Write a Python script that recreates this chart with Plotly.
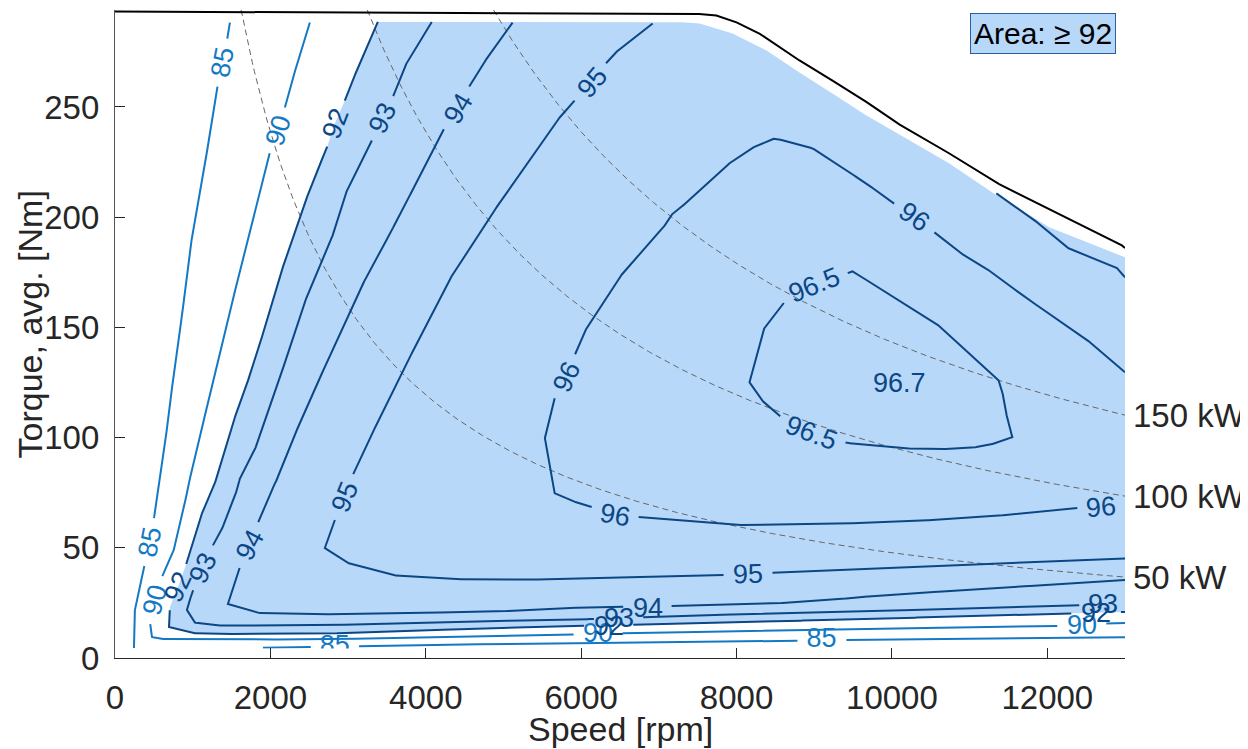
import math
import numpy as np
import plotly.graph_objects as go

# ---------------- data (speed in rpm, torque in Nm) ----------------
# maximum torque envelope
mt_rpm = [0, 4950, 7520, 7740, 8000, 8300, 8810, 9235, 9670, 10100, 10740, 11380, 12025, 12960, 13000]
mt_nm = [293.3, 292.5, 292.2, 291.5, 288.4, 283.2, 271.1, 262.0, 252.3, 242.0, 228.9, 215.0, 203.7, 187.2, 186.0]

# upper edge of the map data (right to left)
edge_rpm = [13000, 12025, 11293, 10740, 10096, 9672, 9235, 8810, 8386, 7949, 7524, 7300, 3383]
edge_nm = [181.8, 195.4, 211.2, 224.4, 237.5, 246.1, 256.1, 265.6, 275.6, 283.3, 287.9, 288.4, 288.6]

# efficiency contour lines
c85a_rpm = [1479, 1441, 1389, 1325, 1248, 1003, 926, 862, 759, 707, 643, 580, 540, 450, 386, 257, 244]
c85a_nm = [288.3, 280.1, 270.2, 260.6, 242.5, 194.0, 174.5, 154.6, 130.6, 113.8, 97.5, 80.7, 71.6, 52.6, 43.1, 23.1, 4.5]
c85b_rpm = [1904, 2572, 4952, 8810, 10097, 13000]
c85b_nm = [4.67, 4.99, 6.35, 7.84, 8.61, 9.38]

c90_rpm = [2508, 2379, 2187, 2096, 1994, 1736, 1505, 1260, 1093, 965, 926, 772, 604, 514, 450, 476,
           579, 862, 2572, 4952, 5942, 6585, 7653, 9454, 12193, 12798, 13000]
c90_nm = [288.3, 274.2, 249.8, 239.3, 229.4, 194.0, 160.9, 126.0, 100.2, 81.6, 74.8, 50.3, 36.7, 26.3, 16.3, 9.5,
          8.6, 8.5, 8.4, 10.0, 10.7, 11.3, 11.9, 13.0, 14.6, 15.7, 15.9]

c92_rpm = [3383, 3177, 2958, 2830, 2727, 2534, 2379, 2225, 1994, 1762, 1582, 1312, 1132, 926, 810, 707, 695,
           990, 1286, 2572, 4952, 7653, 9454, 12373, 13000]
c92_nm = [288.6, 272.4, 252.9, 242.5, 231.6, 215.3, 199.9, 184.9, 157.7, 130.6, 113.8, 81.6, 67.1, 43.5, 32.2, 23.1, 14.1,
          11.3, 10.9, 10.9, 13.7, 15.9, 17.5, 20.3, 20.9]

c93_rpm = [4077, 3769, 3576, 3447, 3306, 2997, 2830, 2662, 2482, 2341, 2097, 1839, 1608, 1582, 1415, 1248, 1132,
           990, 926, 1029, 1286, 2572, 4952, 5724, 7653, 9454, 12450, 13000]
c93_nm = [288.6, 271.3, 254.5, 244.8, 234.8, 213.5, 194.0, 180.4, 165.5, 150.0, 124.7, 97.5, 81.6, 77.5, 61.2, 50.3, 40.8,
          29.5, 21.8, 16.1, 14.7, 14.7, 16.9, 17.2, 19.5, 20.9, 24.0, 24.5]

c94_rpm = [5117, 4849, 4566, 4412, 4244, 3949, 3640, 3563, 3254, 2997, 2740, 2405, 2097, 2058, 1839, 1736, 1608,
           1453, 1839, 2572, 4952, 5724, 7177, 8386, 9235, 9454, 10096, 13000]
c94_nm = [288.3, 275.6, 259.7, 249.3, 240.7, 219.9, 199.9, 194.0, 174.5, 154.6, 135.1, 109.2, 81.6, 79.3, 61.2, 51.2, 41.3,
          24.5, 20.4, 19.7, 21.1, 22.7, 23.6, 24.5, 26.3, 27.2, 29.0, 35.4]

c95_rpm = [6920, 6495, 6328, 6135, 5942, 5762, 5299, 4952, 4720, 4373, 3987, 3691, 3434, 3061, 2958, 2830, 2701,
           2997, 3563, 4283, 5145, 7820, 8463, 10097, 13000]
c95_nm = [287.9, 276.5, 270.2, 261.1, 253.9, 247.1, 224.4, 206.7, 194.0, 175.9, 150.0, 129.2, 111.1, 83.0, 73.0, 62.6, 49.9,
          43.1, 37.6, 35.8, 35.4, 37.6, 38.7, 40.9, 45.2]
c95b_rpm = [11344, 11794, 12245, 12888, 13000]
c95b_nm = [210.8, 199.9, 186.3, 177.2, 172.7]

c96_rpm = [13000, 12605, 12155, 11730, 11293, 10958, 10547, 10290, 10007, 9672, 9454, 9235, 8978, 8720, 8489, 8257,
           7949, 7524, 7396, 7177, 7100, 6791, 6560, 6084, 5917, 5814, 5659, 5531, 5659, 5852, 6148, 6431, 6753,
           7949, 9029, 10097, 11164, 12373, 12695, 13000]
c96_nm = [129.6, 141.9, 153.2, 163.2, 175.0, 181.8, 193.1, 199.9, 206.7, 215.3, 220.3, 225.7, 231.2, 233.9, 235.7, 232.5,
          225.7, 212.1, 207.6, 201.7, 197.2, 184.9, 175.9, 150.9, 137.4, 127.4, 117.9, 100.2, 74.8, 71.6, 68.4, 64.8, 63.9,
          60.3, 60.7, 61.8, 63.9, 68.0, 68.4, 70.7]

c965_rpm = [8656, 8360, 8167, 8322, 8592, 8965, 9428, 10097, 10521, 10997, 11254, 11550, 11486, 11447, 11383,
            10637, 10097, 9492, 9003, 8656]
c965_nm = [163.2, 150.0, 125.1, 117.0, 108.8, 102.0, 97.5, 95.2, 94.7, 95.2, 96.6, 100.2, 107.9, 116.9, 125.6,
           150.0, 162.3, 175.4, 169.1, 163.2]

# contour label positions (rpm, Nm, rotation in degrees)
lab85_rpm = [1389, 450]
lab85_nm = [270.2, 52.6]
lab85_ang = [-79, -79]
lab85cut_rpm = [2830, 9094]
lab85cut_nm = [5.1, 8.1]
lab90_rpm = [2096, 514, 6212, 12450]
lab90_nm = [239.3, 26.3, 11.3, 15.0]
lab90_ang = [-72, -75, 0, 0]
lab92_rpm = [2830, 810, 6354, 12630]
lab92_nm = [242.5, 32.2, 14.6, 20.2]
lab92_ang = [-69, -65, 0, 0]
lab93_rpm = [3447, 1132, 6482, 12720]
lab93_nm = [244.8, 40.8, 18.1, 24.5]
lab93_ang = [-64, -64, 0, 0]
lab94_rpm = [4412, 1736, 6855]
lab94_nm = [249.3, 51.2, 22.8]
lab94_ang = [-59, -62, 0]
lab95_rpm = [6135, 2958, 8142]
lab95_nm = [261.1, 73.0, 38.0]
lab95_ang = [-50, -68, -2]
lab96_rpm = [10290, 5814, 6431, 12695]
lab96_nm = [199.9, 127.4, 64.8, 68.4]
lab96_ang = [35, -65, 10, -5]
lab965_rpm = [9003, 8965]
lab965_nm = [169.1, 102.0]
lab965_ang = [-22, 21]
lab967_rpm = [10097]
lab967_nm = [124.7]

# constant power lines
power_kw = [50, 100, 150]

# axis ticks
x_ticks = [0, 2000, 4000, 6000, 8000, 10000, 12000]
y_ticks = [0, 50, 100, 150, 200, 250]

# ---------------- styling ----------------
DARK = '#0b4785'
LIGHT = '#1479c4'
FILL = '#b8d8fa'
FONT = 'Liberation Sans'
LABEL_FS = 27
X_MAX, Y_MAX = 13000, 294
SX = 1010 / X_MAX  # px per rpm (plot width 1010 px)
SY = 648 / Y_MAX   # px per Nm (plot height 648 px)


def label_radius(text):
    w = LABEL_FS * (0.556 * sum(ch.isdigit() for ch in text) + 0.278 * text.count('.'))
    return w / 2 + 9


def split_line(xs, ys, gaps):
    """densify polyline and open gaps around label centres"""
    ox, oy = [], []
    last_none = True
    for i in range(len(xs) - 1):
        x0, y0, x1, y1 = xs[i], ys[i], xs[i + 1], ys[i + 1]
        L = math.hypot((x1 - x0) * SX, (y1 - y0) * SY)
        n = max(1, int(L))
        for k in range(n + (1 if i == len(xs) - 2 else 0)):
            t = k / n
            x = x0 + (x1 - x0) * t
            y = y0 + (y1 - y0) * t
            vis = all(math.hypot((x - gx) * SX, (y - gy) * SY) > r for gx, gy, r in gaps)
            if vis:
                ox.append(x)
                oy.append(y)
                last_none = False
            elif not last_none:
                ox.append(None)
                oy.append(None)
                last_none = True
    return ox, oy


fig = go.Figure()

# filled area >= 92
fill_x = list(c92_rpm) + list(edge_rpm)
fill_y = list(c92_nm) + list(edge_nm)
fig.add_trace(go.Scatter(x=fill_x, y=fill_y, fill='toself', fillcolor=FILL, mode='none',
                         hoverinfo='skip'))

# constant power hyperbolas
for p in power_kw:
    nmin = p * 1000 * 60 / (2 * math.pi * Y_MAX)
    n = np.linspace(nmin, X_MAX, 400)
    t = p * 1000 * 60 / (2 * math.pi * n)
    fig.add_trace(go.Scatter(x=n, y=t, mode='lines',
                             line=dict(color='#666666', width=1, dash='6px,4px'), hoverinfo='skip'))

contours = [
    ('85', LIGHT, [(c85a_rpm, c85a_nm), (c85b_rpm, c85b_nm)],
     list(zip(lab85_rpm, lab85_nm, lab85_ang)), list(zip(lab85cut_rpm, lab85cut_nm))),
    ('90', LIGHT, [(c90_rpm, c90_nm)], list(zip(lab90_rpm, lab90_nm, lab90_ang)), []),
    ('92', DARK, [(c92_rpm, c92_nm)], list(zip(lab92_rpm, lab92_nm, lab92_ang)), []),
    ('93', DARK, [(c93_rpm, c93_nm)], list(zip(lab93_rpm, lab93_nm, lab93_ang)), []),
    ('94', DARK, [(c94_rpm, c94_nm)], list(zip(lab94_rpm, lab94_nm, lab94_ang)), []),
    ('95', DARK, [(c95_rpm, c95_nm), (c95b_rpm, c95b_nm)], list(zip(lab95_rpm, lab95_nm, lab95_ang)), []),
    ('96', DARK, [(c96_rpm, c96_nm)], list(zip(lab96_rpm, lab96_nm, lab96_ang)), []),
    ('96.5', DARK, [(c965_rpm, c965_nm)], list(zip(lab965_rpm, lab965_nm, lab965_ang)), []),
]

annotations = []
for text, color, lines, labels, cut_labels in contours:
    r = label_radius(text)
    gaps = [(lx, ly, r) for lx, ly, _ in labels] + [(lx, ly, r) for lx, ly in cut_labels]
    for xs, ys in lines:
        dx, dy = split_line(xs, ys, gaps)
        fig.add_trace(go.Scatter(x=dx, y=dy, mode='lines', line=dict(color=color, width=2),
                                 hoverinfo='skip', connectgaps=False))
    for lx, ly, ang in labels:
        annotations.append(dict(x=lx, y=ly, xref='x', yref='y', text=text, showarrow=False,
                                textangle=ang, font=dict(size=LABEL_FS, color=color, family=FONT),
                                xanchor='center', yanchor='middle'))
    if cut_labels:
        fig.add_trace(go.Scatter(x=[c[0] for c in cut_labels], y=[c[1] for c in cut_labels],
                                 mode='text', text=[text] * len(cut_labels), textposition='middle center',
                                 textfont=dict(size=LABEL_FS, color=color, family=FONT), hoverinfo='skip'))

# white strip below the lowest map torque (hides lower part of bottom labels)
fig.add_trace(go.Scatter(x=[0, X_MAX, X_MAX, 0], y=[0, 0, 4.3, 4.3], fill='toself', fillcolor='white',
                         mode='none', hoverinfo='skip'))

for lx, ly in zip(lab967_rpm, lab967_nm):
    annotations.append(dict(x=lx, y=ly, xref='x', yref='y', text='96.7', showarrow=False,
                            font=dict(size=LABEL_FS, color=DARK, family=FONT)))

# maximum torque line
fig.add_trace(go.Scatter(x=mt_rpm, y=mt_nm, mode='lines', line=dict(color='black', width=2),
                         hoverinfo='skip'))

# power labels on the right
for p in power_kw:
    t_end = p * 1000 * 60 / (2 * math.pi * X_MAX)
    annotations.append(dict(x=X_MAX, y=t_end, xref='x', yref='y', text=f'{p} kW', showarrow=False,
                            xanchor='left', yanchor='middle', xshift=6,
                            font=dict(size=33, color='#262626', family=FONT)))

# area box
annotations.append(dict(x=0.919, y=0.9637, xref='paper', yref='paper', text='Area: ≥ 92', showarrow=False,
                        xanchor='center', yanchor='middle', bgcolor=FILL, bordercolor='#2a5e9e',
                        borderwidth=1, borderpad=3, font=dict(size=30, color='black', family=FONT)))

# axis titles
annotations.append(dict(x=0.5, y=-0.1096, xref='paper', yref='paper', text='Speed [rpm]', showarrow=False,
                        xanchor='center', yanchor='middle', font=dict(size=34, color='#262626', family=FONT)))
annotations.append(dict(x=-0.084, y=0.515, xref='paper', yref='paper', text='Torque, avg. [Nm]',
                        showarrow=False, textangle=-90, xanchor='center', yanchor='middle',
                        font=dict(size=34, color='#262626', family=FONT)))

# page has an 8 px body margin: figure is 1240 x 741 so that it fits the 1248 x 749 window
fig.update_layout(
    width=1240, height=741,
    margin=dict(l=107, r=123, t=2, b=91),
    paper_bgcolor='white', plot_bgcolor='white',
    showlegend=False,
    font=dict(family=FONT, color='#262626'),
    annotations=annotations,
    xaxis=dict(range=[0, X_MAX], tickvals=x_ticks, ticktext=[str(v) for v in x_ticks],
               ticks='inside', ticklen=10,
               tickwidth=1.2, tickcolor='#262626', showline=True, linecolor='#262626', linewidth=1.3,
               showgrid=False, zeroline=False, tickfont=dict(size=33, family=FONT, color='#262626'),
               ticklabelstandoff=10),
    yaxis=dict(range=[0, Y_MAX], tickvals=y_ticks, ticktext=[str(v) for v in y_ticks],
               ticks='inside', ticklen=10,
               tickwidth=1.2, tickcolor='#262626', showline=True, linecolor='#555555', linewidth=1.3,
               showgrid=False, zeroline=False, tickfont=dict(size=33, family=FONT, color='#262626'),
               ticklabelstandoff=8),
)

fig.write_html('out.html')
